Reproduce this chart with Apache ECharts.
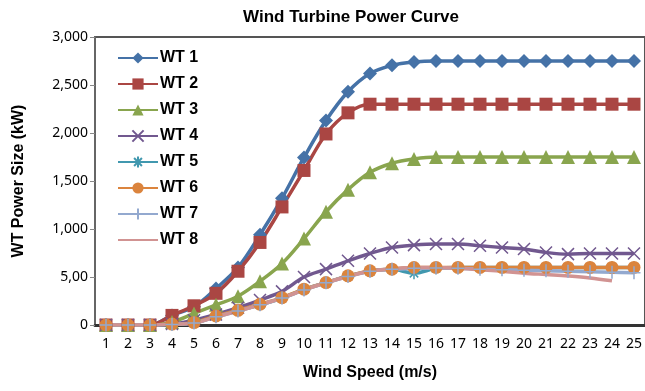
<!DOCTYPE html>
<html>
<head>
<meta charset="utf-8">
<script src="https://cdn.jsdelivr.net/npm/echarts@6/dist/echarts.min.js"></script>
<style>
  html, body { margin: 0; padding: 0; background: #fff; }
  #main { width: 645px; height: 391px; }
</style>
</head>
<body>
<div id="main"></div>
<script>
// wind speed categories (m/s)
const speeds = ['1','2','3','4','5','6','7','8','9','10','11','12','13','14','15','16','17','18','19','20','21','22','23','24','25'];

const wt1 = [0, 0, 0, 100, 190, 380, 600, 940, 1320, 1745, 2130, 2430, 2620, 2705, 2740, 2750, 2750, 2750, 2750, 2750, 2750, 2750, 2750, 2750, 2750];
const wt2 = [0, 0, 0, 100, 200, 330, 560, 860, 1230, 1610, 1990, 2210, 2300, 2300, 2300, 2300, 2300, 2300, 2300, 2300, 2300, 2300, 2300, 2300, 2300];
const wt3 = [0, 0, 0, 30, 120, 210, 300, 455, 640, 900, 1180, 1410, 1590, 1685, 1730, 1750, 1750, 1750, 1750, 1750, 1750, 1750, 1750, 1750, 1750];
const wt4 = [0, 0, 0, 10, 50, 110, 180, 260, 350, 500, 582, 669, 745, 808, 832, 843, 843, 825, 808, 791, 756, 738, 745, 745, 745];
const wt5 = [0, 0, 0, 5, 20, 90, 150, 210, 280, 370, 440, 510, 560, 580, 540, 590, 600, 600, 600, 600, 600, 600, 600, 600, 600];
const wt6 = [0, 0, 0, 10, 25, 94, 153, 216, 285, 373, 442, 512, 564, 582, 599, 600, 600, 600, 600, 600, 600, 600, 600, 600, 600];
const wt7 = [0, 0, 0, 5, 20, 85, 145, 210, 280, 365, 440, 505, 560, 580, 590, 595, 590, 580, 575, 570, 565, 560, 555, 550, 545];
const wt8 = [0, 0, 0, 5, 20, 85, 145, 210, 280, 365, 440, 505, 560, 585, 600, 600, 590, 575, 560, 540, 525, 510, 490, 460, null];

// y tick labels as printed on the original (500 shows as "5,00")
const yTickValues = [0, 500, 1000, 1500, 2000, 2500, 3000];
const yTickLabels = ['0', '5,00', '1,000', '1,500', '2,000', '2,500', '3,000'];

const xPath = 'path://M0,0L10,10M10,0L0,10';
const starPath = 'path://M5,0L5,10M0,5L10,5M1.5,1.5L8.5,8.5M8.5,1.5L1.5,8.5';
const plusPath = 'path://M5,0L5,10M0,5L10,5';

const chart = echarts.init(document.getElementById('main'));

const mkSeries = (name, data, color, symbol, size, stroked) => ({
  name: name,
  type: 'line',
  data: data,
  smooth: 0.35,
  symbol: symbol,
  symbolSize: size,
  showAllSymbol: true,
  lineStyle: { color: color, width: 3.5 },
  itemStyle: stroked
    ? { color: 'rgba(0,0,0,0)', borderColor: color, borderWidth: 1.5 }
    : { color: color, borderColor: color, borderWidth: 0 },
  emphasis: { disabled: true },
  connectNulls: false
});

const legendNames = ['WT 1', 'WT 2', 'WT 3', 'WT 4', 'WT 5', 'WT 6', 'WT 7', 'WT 8'];

const op = {
  animation: false,
  title: {
    text: 'Wind Turbine Power Curve',
    left: 346,
    textAlign: 'center',
    top: 4,
    textStyle: { fontFamily: 'Liberation Sans', fontSize: 17, fontWeight: 'bold', color: '#000' }
  },
  grid: {
    left: 95,
    right: 0,
    top: 37,
    bottom: 66,
    show: true,
    borderColor: '#555',
    borderWidth: 2,
    containLabel: false
  },
  legend: {
    orient: 'vertical',
    left: 112,
    top: 45,
    itemWidth: 40,
    itemHeight: 14,
    itemGap: 10,
    textStyle: {
      fontFamily: 'Liberation Sans', fontSize: 16, fontWeight: 'bold', color: '#000',
      padding: [0, 0, 0, -3]
    },
    data: legendNames.map((n) => n === 'WT 8'
      ? { name: n, itemStyle: { opacity: 0 } }
      : { name: n })
  },
  xAxis: {
    type: 'category',
    data: speeds,
    boundaryGap: true,
    name: 'Wind Speed (m/s)',
    nameLocation: 'middle',
    nameGap: 40,
    nameTextStyle: { fontFamily: 'Liberation Sans', fontSize: 16, fontWeight: 'bold', color: '#000' },
    axisLine: { show: true, lineStyle: { color: '#333', width: 3 } },
    axisTick: { show: false },
    axisLabel: { interval: 0, fontFamily: 'Noto Sans', fontSize: 14, color: '#000', margin: 12 }
  },
  yAxis: {
    type: 'value',
    min: 0,
    max: 3000,
    interval: 500,
    name: 'WT Power Size (kW)',
    nameLocation: 'middle',
    nameGap: 68,
    nameTextStyle: { fontFamily: 'Liberation Sans', fontSize: 16, fontWeight: 'bold', color: '#000' },
    axisLine: { show: true, lineStyle: { color: '#666', width: 2 } },
    axisTick: { show: true, inside: false, length: 5, lineStyle: { color: '#888' } },
    splitLine: { show: false },
    axisLabel: {
      fontFamily: 'Noto Sans',
      fontSize: 14,
      color: '#000',
      margin: 7,
      formatter: (v) => yTickLabels[yTickValues.indexOf(v)]
    }
  },
  series: [
    mkSeries('WT 1', wt1, '#4572A7', 'diamond', 14, false),
    mkSeries('WT 2', wt2, '#AA4643', 'rect', 13, false),
    mkSeries('WT 3', wt3, '#89A54E', 'triangle', 14, false),
    mkSeries('WT 4', wt4, '#71588F', xPath, 12, true),
    mkSeries('WT 5', wt5, '#4198AF', starPath, 12, true),
    mkSeries('WT 6', wt6, '#DB843D', 'circle', 13, false),
    mkSeries('WT 7', wt7, '#93A9CF', plusPath, 13, true),
    mkSeries('WT 8', wt8, '#D19392', 'none', 1, false)
  ]
};

chart.setOption(op, true);
</script>
</body>
</html>
